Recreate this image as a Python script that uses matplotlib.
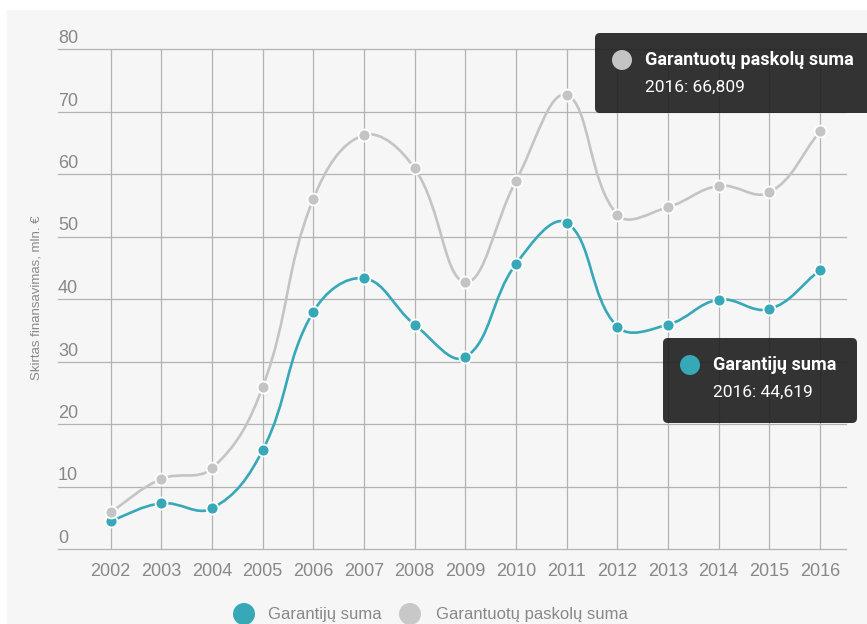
import numpy as np
import matplotlib
matplotlib.use("Agg")
import matplotlib.pyplot as plt
from matplotlib import font_manager
from matplotlib.path import Path
from matplotlib.patches import PathPatch, FancyBboxPatch, Circle, Rectangle
from matplotlib.transforms import Affine2D

years = [2002, 2003, 2004, 2005, 2006, 2007, 2008, 2009, 2010, 2011, 2012, 2013, 2014, 2015, 2016]
garantiju = [4.5, 7.3, 6.5, 15.8, 37.95, 43.3, 35.9, 30.7, 45.6, 52.2, 35.6, 35.9, 39.9, 38.4, 44.619]
paskolu = [5.9, 11.2, 12.9, 25.9, 56.0, 66.2, 60.9, 42.7, 58.9, 72.65, 53.5, 54.7, 58.1, 57.05, 66.809]
yticks = [0, 10, 20, 30, 40, 50, 60, 70, 80]

name1 = "Garantijų suma"
name2 = "Garantuotų paskolų suma"
ylab = "Skirtas finansavimas, mln. €"

teal = "#36a8b8"
grey = "#c4c4c4"
txt = "#888888"

# no condensed font here, so a plain sans at a smaller size
narrow = {"family": "Liberation Sans"}
for f in font_manager.fontManager.ttflist:
    if f.name == "Liberation Sans Narrow":
        narrow = {"family": "Liberation Sans Narrow"}
        break
small = narrow["family"] == "Liberation Sans"
tick_fs = 13 if small else 15
leg_fs = 12 if small else 14
lab_fs = 9.5 if small else 11

W, H = 867, 624
fig = plt.figure(figsize=(W / 100, H / 100), dpi=100)
fig.patch.set_facecolor("white")
pix = Affine2D().scale(1, -1).translate(0, H)  # top-left pixel coords

fig.add_artist(Rectangle((7, 10), W, H, transform=pix, facecolor="#f6f6f6", edgecolor="none", zorder=0))

left, right, top, bottom = 58, 846, 49, 549
ax = fig.add_axes([left / W, (H - bottom) / H, (right - left) / W, (bottom - top) / H])
ax.set_facecolor("none")
ax.set_xlim(2002 - 52.6 / 50.67, 2016 + 26 / 50.67)
ax.set_ylim(0, 80)
for s in ax.spines.values():
    s.set_visible(False)
ax.set_xticks([])
ax.set_yticks([])

for v in yticks:
    ax.axhline(v, color="#b3b3b3", lw=0.9, zorder=1, clip_on=False)
    ax.annotate(str(v), (0, v), xycoords=("axes fraction", "data"), xytext=(0, 6),
                textcoords="offset pixels", ha="left", va="baseline",
                fontsize=tick_fs, color=txt, **narrow)
ax.vlines(years, 0, 80, color="#b3b3b3", lw=0.9, zorder=1)
for yr in years:
    ax.annotate(str(yr), (yr, 0), xytext=(0, -23), textcoords="offset pixels",
                ha="center", va="center", fontsize=tick_fs, color=txt, **narrow,
                annotation_clip=False)


def spline(xs, ys, sx=50.67, sy=6.26, t=0.4):
    # chart.js style bezier curve through the points
    P = np.column_stack([np.asarray(xs, float) * sx, np.asarray(ys, float) * sy])
    n = len(P)
    cin, cout = [], []
    for i in range(n):
        prev = P[max(i - 1, 0)]
        cur = P[i]
        nxt = P[min(i + 1, n - 1)]
        d01 = np.hypot(*(cur - prev))
        d12 = np.hypot(*(nxt - cur))
        tot = d01 + d12
        s01 = d01 / tot if tot else 0
        s12 = d12 / tot if tot else 0
        cin.append(cur - t * s01 * (nxt - prev))
        cout.append(cur + t * s12 * (nxt - prev))
    verts = [P[0]]
    codes = [Path.MOVETO]
    for i in range(n - 1):
        verts += [cout[i], cin[i + 1], P[i + 1]]
        codes += [Path.CURVE4] * 3
    verts = np.array(verts) / [sx, sy]
    return Path(verts, codes)


# grey series sits on top of the teal one, like the original
for k, (vals, col) in enumerate([(garantiju, teal), (paskolu, grey)]):
    ax.add_patch(PathPatch(spline(years, vals), facecolor="none", edgecolor=col, lw=1.9, zorder=3 + 2 * k,
                           capstyle="round"))
    ax.plot(years, vals, "o", ms=8.6, color=col, mec="white", mew=1.3, zorder=4 + 2 * k, clip_on=False)

fig.text(37 / W, 1 - 298 / H, ylab, rotation=90, ha="center", va="center", fontsize=lab_fs, color=txt, **narrow)

# legend
fig.add_artist(Circle((244, 614), 11, transform=pix, facecolor=teal, edgecolor="none"))
fig.text(268 / W, 1 - 614 / H, name1, ha="left", va="center", fontsize=leg_fs, color=txt, **narrow)
fig.add_artist(Circle((410, 614), 11, transform=pix, facecolor="#c8c8c8", edgecolor="none"))
fig.text(436 / W, 1 - 614 / H, name2, ha="left", va="center", fontsize=leg_fs, color=txt, **narrow)

# tooltips
tips = [((595, 33, 290, 80), grey, name2, "2016: 66,809"),
        ((663, 338, 194, 85), teal, name1, "2016: 44,619")]
for (x0, y0, w, h), col, head, val in tips:
    fig.add_artist(FancyBboxPatch((x0, y0), w, h, boxstyle="round,pad=0,rounding_size=5", transform=pix,
                                  facecolor="#1e1e1e", edgecolor="none", alpha=0.9, zorder=10))
    fig.add_artist(Circle((x0 + 27, y0 + 27), 10, transform=pix, facecolor=col, edgecolor="none", zorder=11))
    fig.text((x0 + 50) / W, 1 - (y0 + 27) / H, head, ha="left", va="center", fontsize=13,
             fontweight="bold", color="white", family="Roboto", zorder=12)
    fig.text((x0 + 50) / W, 1 - (y0 + 54) / H, val, ha="left", va="center", fontsize=12.5,
             color="white", family="Roboto", zorder=12)

fig.savefig("out.png", dpi=100)
